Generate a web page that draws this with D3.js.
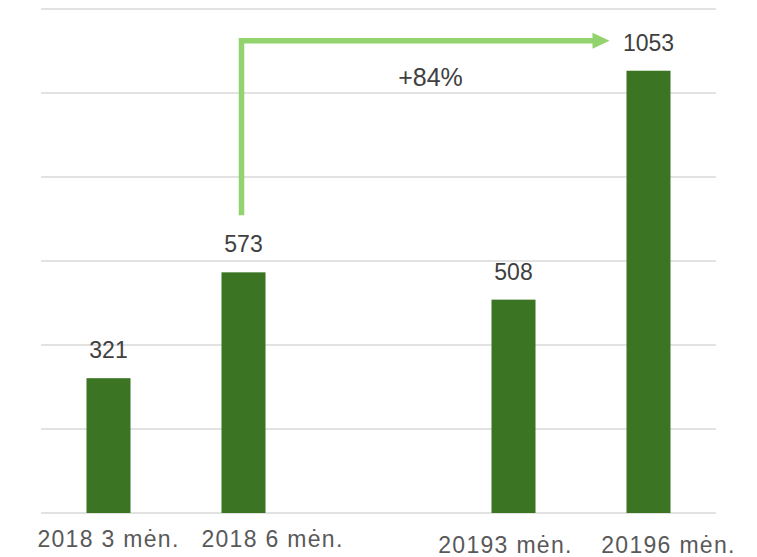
<!DOCTYPE html>
<html>
<head>
<meta charset="utf-8">
<script src="https://cdn.jsdelivr.net/npm/d3@7"></script>
<style>
  body { margin: 0; background: #fff; }
  svg { display: block; font-family: "Liberation Sans", Arial, sans-serif; }
</style>
</head>
<body>
<div id="chart"></div>
<script>
// data
var categories = ["2018 3 mėn.", "2018 6 mėn.", "gap", "20193 mėn.", "20196 mėn."];
var values = [321, 573, null, 508, 1053];
var yTicks = [0, 200, 400, 600, 800, 1000, 1200];
var growthLabel = "+84%";

// small nudges so the axis labels sit like in the original
var labelShiftX = [0, 29, 0, -8, 20];
var labelShiftY = [0, 0, 0, 6, 6];

var svg_width = 757, svg_height = 557;
var margin = {top: 9, right: 41, bottom: 44, left: 41};

var svg = d3.select("#chart")
  .append("svg")
  .attr("width", svg_width)
  .attr("height", svg_height);

var x = d3.scaleBand()
  .domain(categories)
  .range([margin.left, svg_width - margin.right])
  .paddingInner(0.674)
  .paddingOuter(0.337);

var y = d3.scaleLinear()
  .domain([0, 1200])
  .range([svg_height - margin.bottom, margin.top]);

// gridlines
svg.append("g")
  .selectAll("line")
  .data(yTicks)
  .enter()
  .append("line")
  .attr("x1", margin.left)
  .attr("x2", svg_width - margin.right)
  .attr("y1", function(d) { return y(d); })
  .attr("y2", function(d) { return y(d); })
  .attr("stroke", "#d9d9d9")
  .attr("stroke-width", 1.5);

var data = categories.map(function(c, i) {
  return {cat: c, value: values[i], i: i};
}).filter(function(d) { return d.value !== null; });

// bars
svg.append("g")
  .selectAll("rect")
  .data(data)
  .enter()
  .append("rect")
  .attr("x", function(d) { return x(d.cat); })
  .attr("y", function(d) { return y(d.value); })
  .attr("width", x.bandwidth())
  .attr("height", function(d) { return y(0) - y(d.value); })
  .attr("fill", "#3b7524");

// value labels
svg.append("g")
  .selectAll("text")
  .data(data)
  .enter()
  .append("text")
  .attr("x", function(d) { return x(d.cat) + x.bandwidth() / 2; })
  .attr("y", function(d) { return y(d.value) - 20; })
  .attr("text-anchor", "middle")
  .attr("font-size", 23)
  .attr("fill", "#404040")
  .text(function(d) { return d.value; });

// category labels
svg.append("g")
  .selectAll("text")
  .data(data)
  .enter()
  .append("text")
  .attr("x", function(d) { return x(d.cat) + x.bandwidth() / 2 + labelShiftX[d.i]; })
  .attr("y", function(d) { return y(0) + 34 + labelShiftY[d.i]; })
  .attr("text-anchor", "middle")
  .attr("font-size", 23)
  .attr("letter-spacing", 1.3)
  .attr("fill", "#595959")
  .text(function(d) { return d.cat; });

// growth arrow from 2018 6 men. to 2019 6 men.
var from = data[1], to = data[3];
var ax = x(from.cat) + x.bandwidth() / 2 - 2;
var aBottom = y(from.value) - 57;
var aTop = y(to.value) - 30;
var aTip = x(to.cat) + x.bandwidth() / 2 - 39;
var green = "#92d36e";

svg.append("path")
  .attr("d", "M" + ax + "," + aBottom + "V" + aTop + "H" + (aTip - 16))
  .attr("fill", "none")
  .attr("stroke", green)
  .attr("stroke-width", 5.5);

svg.append("path")
  .attr("d", "M" + (aTip - 17) + "," + (aTop - 8) + "L" + aTip + "," + aTop + "L" + (aTip - 17) + "," + (aTop + 8) + "Z")
  .attr("fill", green);

svg.append("text")
  .attr("x", (ax + aTip) / 2 + 5)
  .attr("y", aTop + 45)
  .attr("text-anchor", "middle")
  .attr("font-size", 25)
  .attr("fill", "#404040")
  .text(growthLabel);
</script>
</body>
</html>
